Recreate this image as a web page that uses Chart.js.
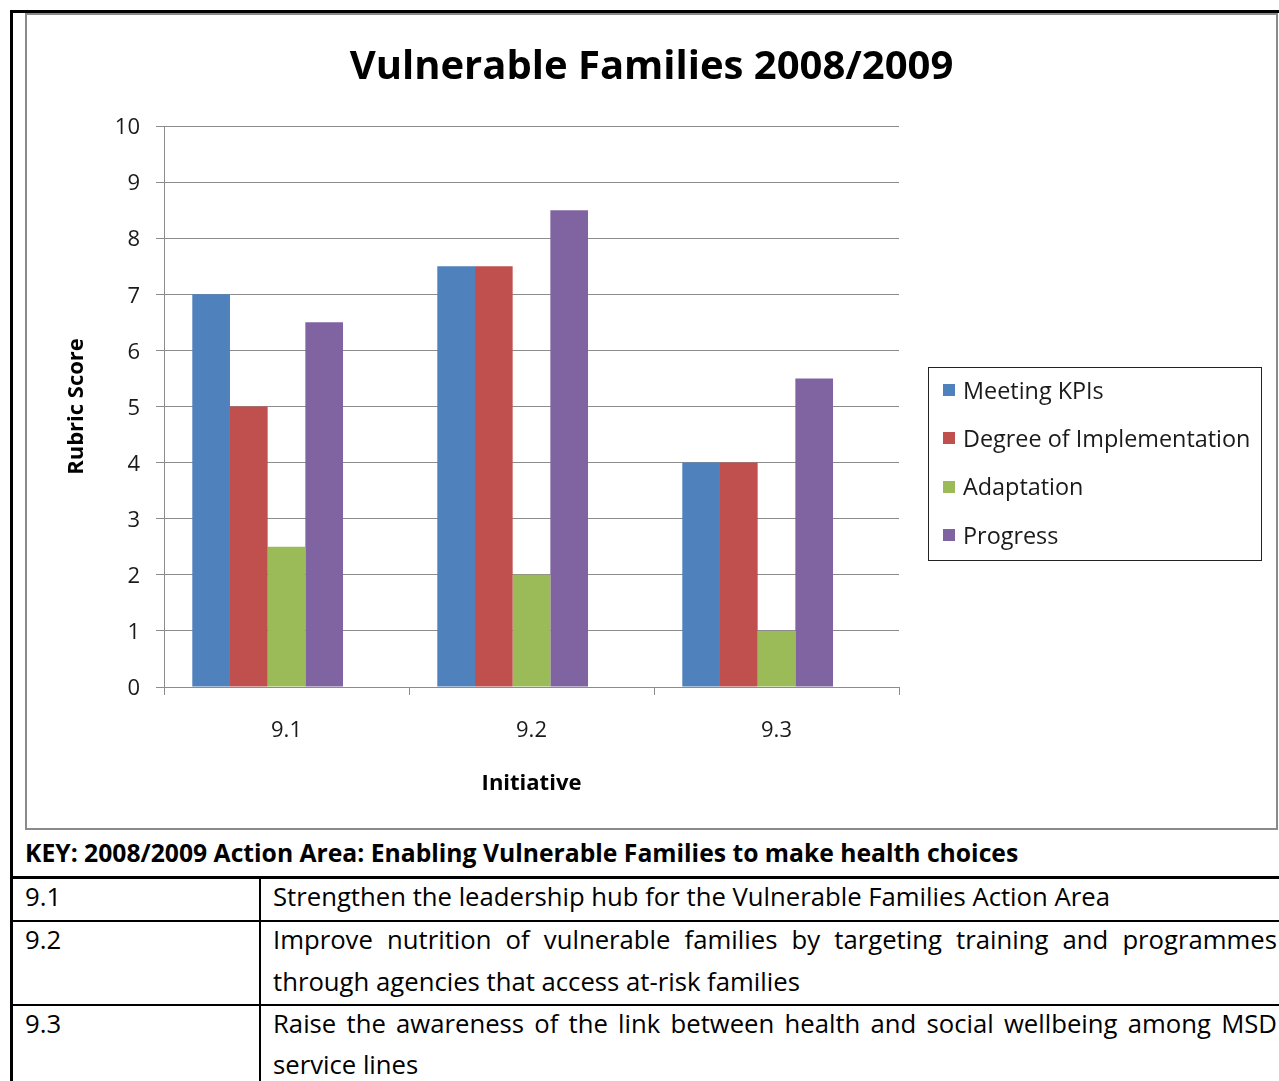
<!DOCTYPE html>
<html>
<head>
<meta charset="utf-8">
<title>Vulnerable Families 2008/2009</title>
<script src="https://cdn.jsdelivr.net/npm/chart.js@4/dist/chart.umd.min.js"></script>
<style>
  html, body { margin: 0; padding: 0; background: #fff; }
  body { position: relative; width: 1279px; height: 1081px; overflow: hidden; font-family: "Open Sans", "Noto Sans", sans-serif; color: #000; }
  #frame { position: absolute; left: 10px; top: 10px; width: 1400px; height: 1200px; border: 3px solid #000; box-sizing: border-box; }
  #chartBox { position: absolute; left: 25px; top: 13px; width: 1253px; height: 817px; border: 2px solid #8a8a8a; box-sizing: border-box; background: #fff; }
  #chartBox canvas { position: absolute; left: 0; top: 0; }
  .txt { position: absolute; font-size: 25.7px; line-height: 30px; white-space: nowrap; }
  .bold { font-weight: bold; font-size: 24.7px; }
  .just { white-space: normal; width: 1004px; text-align: justify; text-align-last: justify; }
  .hline { position: absolute; left: 12px; width: 1300px; height: 2px; background: #000; }
  .vline { position: absolute; width: 2px; background: #000; }
</style>
</head>
<body>
<div id="frame"></div>
<div id="chartBox"><canvas id="chart" width="1249" height="813"></canvas></div>

<div class="txt bold" style="left:25px; top:838px;">KEY: 2008/2009 Action Area: Enabling Vulnerable Families to make health choices</div>
<div class="hline" style="top:876px; height:3px;"></div>

<div class="txt" style="left:25px; top:882px;">9.1</div>
<div class="txt" style="left:273px; top:882px;">Strengthen the leadership hub for the Vulnerable Families Action Area</div>
<div class="hline" style="top:920px;"></div>

<div class="txt" style="left:25px; top:925px;">9.2</div>
<div class="txt just" style="left:273px; top:925px;">Improve nutrition of vulnerable families by targeting training and programmes</div>
<div class="txt" style="left:273px; top:967px;">through agencies that access at-risk families</div>
<div class="hline" style="top:1004px;"></div>

<div class="txt" style="left:25px; top:1009px;">9.3</div>
<div class="txt just" style="left:273px; top:1009px;">Raise the awareness of the link between health and social wellbeing among MSD</div>
<div class="txt" style="left:273px; top:1050px;">service lines</div>

<div class="vline" style="left:259px; top:876px; height:220px;"></div>

<script>
// Rubric scores per initiative
const categories = ['9.1', '9.2', '9.3'];
const meetingKpis = [7, 7.5, 4];
const degreeOfImplementation = [5, 7.5, 4];
const adaptation = [2.5, 2, 1];
const progress = [6.5, 8.5, 5.5];
// fifth series slot in the workbook holds no values
const unnamedSeries = [null, null, null];

const FONT = '"Open Sans", "Noto Sans", sans-serif';

// Boxed legend drawn in the right-hand margin of the canvas
const boxedLegend = {
  id: 'boxedLegend',
  afterDraw(chart) {
    const ctx = chart.ctx;
    const x0 = 901, y0 = 352, w = 333, h = 193;
    ctx.save();
    ctx.strokeStyle = '#222';
    ctx.lineWidth = 1;
    ctx.strokeRect(x0 + 0.5, y0 + 0.5, w, h);
    ctx.font = '23.4px ' + FONT;
    ctx.textBaseline = 'middle';
    ctx.textAlign = 'left';
    let row = 0;
    chart.data.datasets.forEach(ds => {
      if (!ds.label) return;
      const cy = 377 + row * 48.3;
      ctx.fillStyle = ds.backgroundColor;
      ctx.fillRect(916, Math.round(cy - 8), 12, 12);
      ctx.fillStyle = '#1a1a1a';
      ctx.fillText(ds.label, 936, cy);
      row++;
    });
    ctx.restore();
  }
};

new Chart(document.getElementById('chart'), {
  type: 'bar',
  data: {
    labels: categories,
    datasets: [
      { label: 'Meeting KPIs', data: meetingKpis, backgroundColor: '#4F81BD' },
      { label: 'Degree of Implementation', data: degreeOfImplementation, backgroundColor: '#C0504D' },
      { label: 'Adaptation', data: adaptation, backgroundColor: '#9BBB59' },
      { label: 'Progress', data: progress, backgroundColor: '#8064A2' },
      { label: '', data: unnamedSeries, backgroundColor: 'rgba(0,0,0,0)' }
    ]
  },
  options: {
    responsive: false,
    animation: false,
    devicePixelRatio: 1,
    layout: { padding: 0 },
    datasets: { bar: { categoryPercentage: 0.769, barPercentage: 1, borderWidth: 0 } },
    plugins: {
      legend: { display: false },
      tooltip: { enabled: false },
      title: {
        display: true,
        text: 'Vulnerable Families 2008/2009',
        color: '#000',
        font: { family: FONT, size: 40, weight: 'bold' },
        padding: { top: 29, bottom: 34 }
      }
    },
    scales: {
      x: {
        grid: { display: true, drawOnChartArea: false, drawTicks: true, tickLength: 8, color: '#8c8c8c', offset: true },
        border: { color: '#8c8c8c' },
        ticks: { color: '#1a1a1a', font: { family: FONT, size: 22 }, padding: 23 },
        title: { display: true, text: 'Initiative', color: '#000', font: { family: FONT, size: 22, weight: 'bold' }, padding: { top: 0, bottom: 31 } },
        afterFit(scale) { scale.height = 141; }
      },
      y: {
        min: 0,
        max: 10,
        grid: { color: '#8c8c8c', tickLength: 8 },
        border: { color: '#8c8c8c' },
        ticks: { stepSize: 1, color: '#1a1a1a', font: { family: FONT, size: 22 }, padding: 16, labelOffset: 2 },
        title: { display: true, text: 'Rubric Score', color: '#000', font: { family: FONT, size: 22, weight: 'bold' }, padding: { top: 37, bottom: 0 } },
        afterFit(scale) { scale.width = 137; }
      },
      // empty right-hand band that holds the legend box
      legendBand: {
        type: 'linear',
        position: 'right',
        display: true,
        grid: { display: false },
        border: { display: false },
        ticks: { display: false },
        afterFit(scale) { scale.width = 377; }
      }
    }
  },
  plugins: [boxedLegend]
});
</script>
</body>
</html>
